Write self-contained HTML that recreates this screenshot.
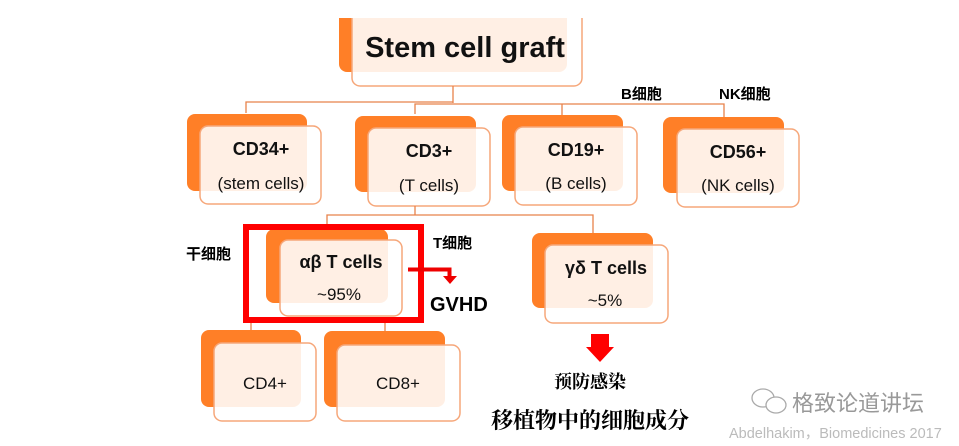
<!DOCTYPE html>
<html><head><meta charset="utf-8"><style>
html,body{margin:0;padding:0;background:#fff;width:959px;height:446px;overflow:hidden}
svg{display:block}
.b{font-family:"Liberation Sans","Noto Sans CJK SC",sans-serif;font-weight:bold}
.r{font-family:"Liberation Sans","Noto Sans CJK SC",sans-serif}
.s{font-family:"Liberation Serif","Noto Serif CJK SC",serif}
</style></head><body>
<svg width="959" height="446" viewBox="0 0 959 446" xmlns="http://www.w3.org/2000/svg">
<defs><clipPath id="c"><rect x="0" y="18" width="959" height="428"/></clipPath></defs>
<g clip-path="url(#c)">
<rect x="339" y="-10" width="228" height="82" rx="8" fill="#FF7F27"/>
<rect x="352" y="-10" width="230" height="96" rx="8" fill="rgba(255,255,255,0.88)" stroke="#F6A77A" stroke-width="1.5"/>
</g>
<g fill="#FF7F27">
<rect x="187" y="114" width="120" height="77" rx="8"/>
<rect x="355" y="116" width="121" height="76" rx="8"/>
<rect x="502" y="115" width="121" height="76" rx="8"/>
<rect x="663" y="117" width="121" height="76" rx="8"/>
<rect x="266" y="229" width="122" height="74" rx="8"/>
<rect x="532" y="233" width="121" height="75" rx="8"/>
<rect x="201" y="330" width="100" height="77" rx="8"/>
<rect x="324" y="331" width="121" height="76" rx="8"/>
</g>
<g fill="rgba(255,255,255,0.88)" stroke="#F6A77A" stroke-width="1.5">
<rect x="200" y="126" width="121" height="78" rx="8"/>
<rect x="368" y="128" width="122" height="78" rx="8"/>
<rect x="515" y="127" width="122" height="78" rx="8"/>
<rect x="677" y="129" width="122" height="78" rx="8"/>
<rect x="280" y="240" width="122" height="76" rx="8"/>
<rect x="545" y="245" width="123" height="78" rx="8"/>
<rect x="214" y="343" width="102" height="78" rx="8"/>
<rect x="337" y="345" width="123" height="76" rx="8"/>
</g>
<g fill="none" stroke="#E8824A" stroke-width="1.3">
<path d="M453 86V103M246 113V102H453M415 114V104H724V117M562 104V115"/>
<path d="M415 206V215M327 229V215H593V233"/>
<path d="M251 321V330M385 321V331"/>
</g>
<text x="465" y="57" text-anchor="middle" class="b" font-size="29" fill="#111">Stem cell graft</text>
<g class="b" font-size="18" text-anchor="middle" fill="#111">
<text x="261" y="155">CD34+</text>
<text x="429" y="157">CD3+</text>
<text x="576" y="156">CD19+</text>
<text x="738" y="158">CD56+</text>
<text x="341" y="268">αβ T cells</text>
<text x="606" y="274">γδ T cells</text>
</g>
<g class="r" font-size="17" text-anchor="middle" fill="#111">
<text x="261" y="189">(stem cells)</text>
<text x="429" y="191">(T cells)</text>
<text x="576" y="189">(B cells)</text>
<text x="738" y="191">(NK cells)</text>
<text x="339" y="300">~95%</text>
<text x="605" y="306">~5%</text>
<text x="265" y="389">CD4+</text>
<text x="398" y="389">CD8+</text>
</g>
<rect x="246" y="227" width="175" height="93" fill="none" stroke="#F00" stroke-width="6"/>
<path d="M408 269.5H449.5V277" fill="none" stroke="#E00" stroke-width="4"/>
<polygon points="443,276 457,276 450,284" fill="#E00"/>
<text x="430" y="311" class="b" font-size="20" fill="#000">GVHD</text>
<polygon points="591,334 609,334 609,347 614,347 600,362 586,347 591,347" fill="#F00"/>
<g class="b" font-size="15" fill="#000">
<text x="186" y="259">干细胞</text>
<text x="433" y="248">T细胞</text>
<text x="621" y="99">B细胞</text>
<text x="719" y="99">NK细胞</text>
</g>
<text x="554" y="388" class="s" font-size="18" fill="#000" font-weight="bold">预防感染</text>
<text x="491" y="428" class="s" font-size="22" fill="#000" font-weight="bold">移植物中的细胞成分</text>
<g fill="none" stroke="#aaa" stroke-width="1.3">
<ellipse cx="763" cy="398" rx="11" ry="9"/>
<ellipse cx="776" cy="405" rx="10" ry="8" fill="#fff"/>
</g>
<text x="792" y="411" class="r" font-size="22" fill="#999">格致论道讲坛</text>
<text x="729" y="438" class="r" font-size="14.5" fill="#bbb">Abdelhakim，Biomedicines 2017</text>
</svg>
</body></html>
